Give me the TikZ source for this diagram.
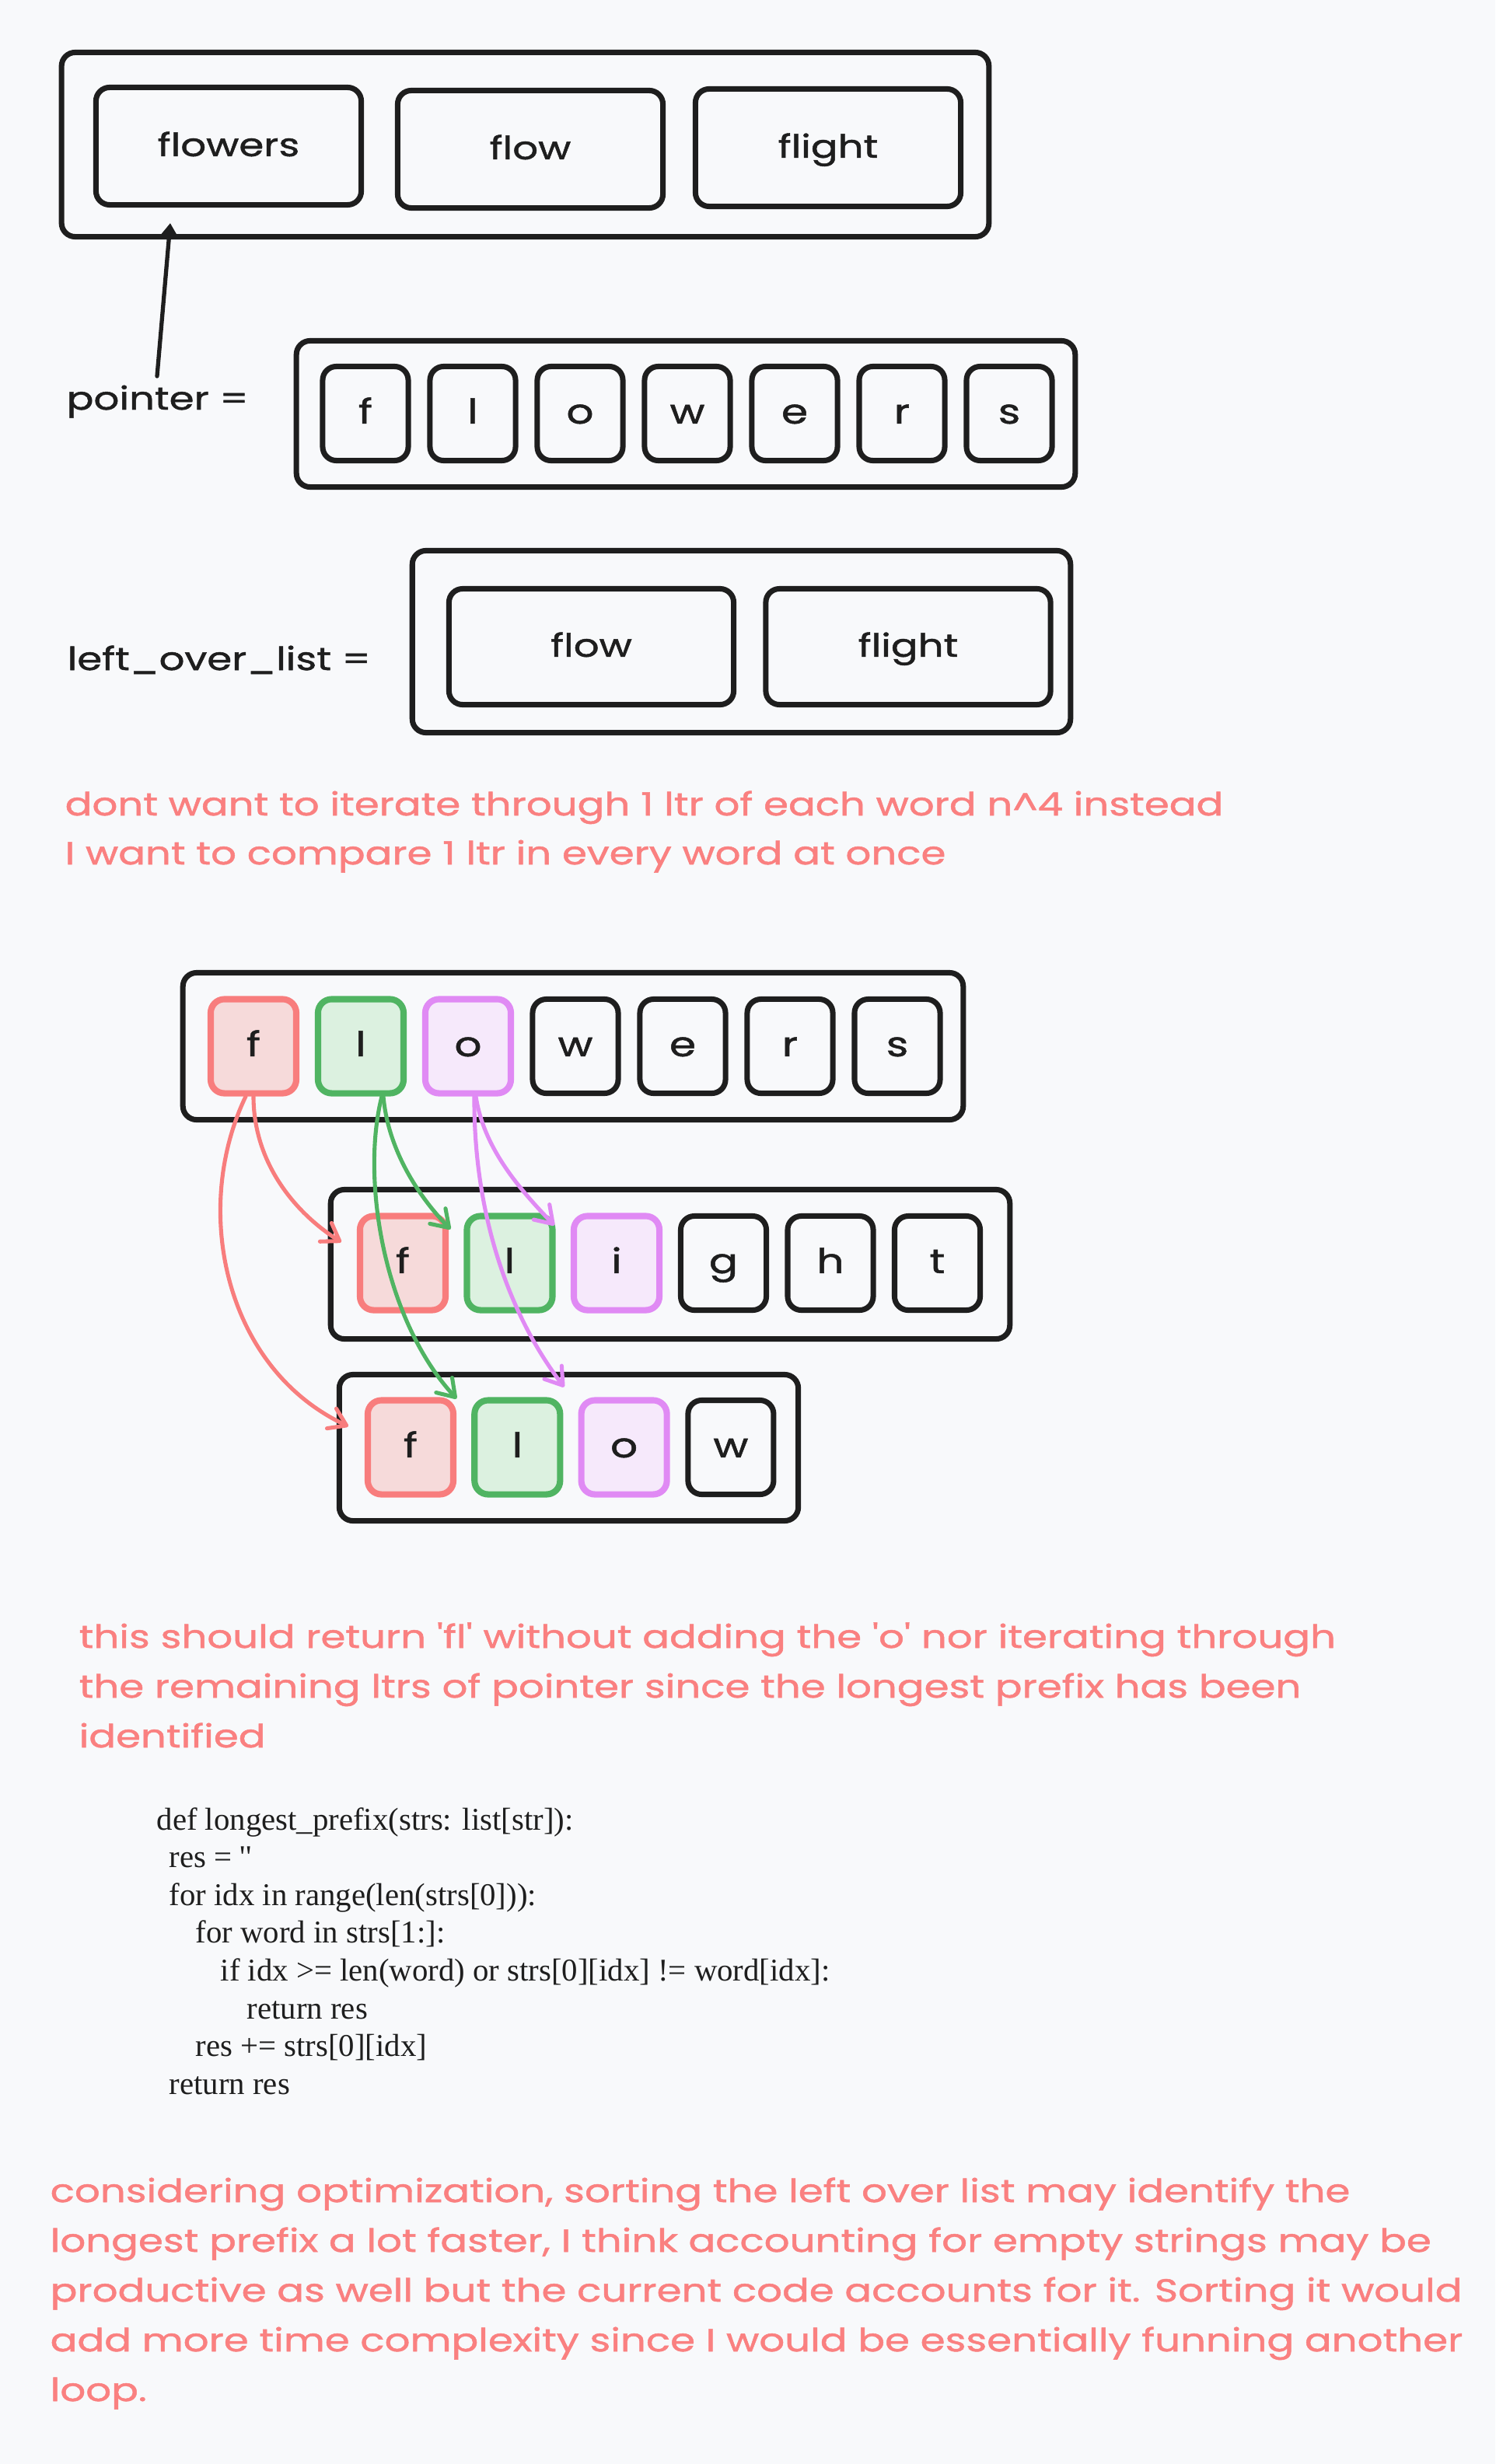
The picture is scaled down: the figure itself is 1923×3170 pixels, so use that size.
\documentclass[tikz,border=0pt]{standalone}
\usepackage{fontspec}
\setmainfont{Liberation Serif}
\newfontfamily\handfont[FakeStretch=1.25,FakeBold=1.2,Ligatures=TeXOff]{Poppins}
\newfontfamily\codefont[Ligatures=TeXOff]{Liberation Serif}
\usetikzlibrary{arrows.meta}

\definecolor{inkc}{HTML}{1E1E1E}
\definecolor{bgc}{HTML}{F8F9FB}
\definecolor{notec}{HTML}{FA8080}
\definecolor{redc}{HTML}{F87D7D}
\definecolor{redfill}{HTML}{F6DADA}
\definecolor{greenc}{HTML}{50B462}
\definecolor{greenfill}{HTML}{DCF1E0}
\definecolor{purplec}{HTML}{E08AF4}
\definecolor{purplefill}{HTML}{F6E9FB}

\tikzset{
  hand/.style={font=\handfont\fontsize{11.7pt}{14pt}\selectfont, text=inkc},
  frame/.style={draw=inkc, line width=2pt, rounded corners=5pt},
  wordbox/.style={frame, hand, minimum width=3.41cm, minimum height=1.51cm,
    text height=2.2ex, text depth=0.6ex},
  cell/.style={frame, hand, font=\handfont\fontsize{12.5pt}{14pt}\selectfont,
    minimum width=1.10cm, minimum height=1.21cm,
    inner sep=0pt, text height=2.2ex, text depth=0.6ex},
  redcell/.style={draw=redc, fill=redfill, line width=2.3pt},
  greencell/.style={draw=greenc, fill=greenfill, line width=2.3pt},
  purplecell/.style={draw=purplec, fill=purplefill, line width=2.3pt},
  labeltext/.style={hand, anchor=base west, inner sep=0pt},
  note/.style={hand, text=notec, anchor=base west, inner sep=0pt},
  codeline/.style={font=\codefont\fontsize{11.6pt}{13pt}\selectfont, text=inkc,
    anchor=base west, inner sep=0pt},
  ptrarrow/.style={draw=inkc, line width=1.5pt, line cap=round,
    -{Triangle[length=5pt, width=6.5pt]}},
  hop/.style={line width=1.45pt, line cap=round,
    -{Straight Barb[length=6pt, width=8pt, round]}}
}

\begin{document}
\begin{tikzpicture}[x=0.01cm, y=-0.01cm]
\fill[bgc] (0,0) rectangle (1923,3170);
\useasboundingbox (0,0) rectangle (1923,3170);

% the list of words
\node[frame, minimum width=11.92cm, minimum height=2.37cm] (words) at (675.5,186) {};
\node[wordbox] (w1) at (294,188) {flowers};
\node[wordbox] (w2) at (682,192) {flow};
\node[wordbox] (w3) at (1065,190) {flight};

% pointer = first word
\node[labeltext] (ptrlab) at (85,527) {pointer =};
\node[frame, minimum width=10.01cm, minimum height=1.88cm] (ptrrow) at (882,532.5) {};
\foreach \c [count=\i] in {f,l,o,w,e,r,s}
  \node[cell] (p\i) at (470+138*\i-138,532) {\c};
\coordinate (ptrfoot) at (202,484);
\draw[ptrarrow] (ptrfoot) -- ([xshift=-0.75cm,yshift=-0.2cm]w1.south);

% the rest of the list
\node[labeltext] (leftlab) at (86,862) {left\_over\_list =};
\node[frame, minimum width=8.46cm, minimum height=2.34cm] (leftover) at (953.5,825.5) {};
\node[wordbox, minimum width=3.66cm, minimum height=1.49cm] (l1) at (760.5,832) {flow};
\node[wordbox, minimum width=3.66cm, minimum height=1.49cm] (l2) at (1168,832) {flight};

\foreach \t [count=\i from 0] in {{dont want to iterate through 1 ltr of each word n\textasciicircum4 instead},
    {I want to compare 1 ltr in every word at once}}
  \node[note] (idea\i) at (83,1049+63*\i) {\t};

% one letter of every word at a time
\node[frame, minimum width=10.03cm, minimum height=1.89cm] (rowA) at (737,1346) {};
\foreach \c/\s [count=\i] in {f/redcell,l/greencell,o/purplecell,w/cell,e/cell,r/cell,s/cell}
  \node[cell,\s] (a\i) at (326+138*\i-138,1346) {\c};

\node[frame, minimum width=8.73cm, minimum height=1.92cm] (rowB) at (862,1626.5) {};
\foreach \c/\s [count=\i] in {f/redcell,l/greencell,i/purplecell,g/cell,h/cell,t/cell}
  \node[cell,\s] (b\i) at (518+137.5*\i-137.5,1625) {\c};

\node[frame, minimum width=5.90cm, minimum height=1.88cm] (rowC) at (731.5,1862.5) {};
\foreach \c/\s [count=\i] in {f/redcell,l/greencell,o/purplecell,w/cell}
  \node[cell,\s] (c\i) at (528+137.3*\i-137.3,1862) {\c};

\draw[hop, redc] (a1.south) .. controls +(0,85) and +(-60,-38) .. ([xshift=-0.2cm,yshift=0.27cm]b1.west);
\draw[hop, redc] ([xshift=-0.1cm]a1.south) .. controls +(-70,146) and +(-159,-75) .. ([xshift=-0.21cm,yshift=0.27cm]c1.west);
\draw[hop, greenc] ([xshift=0.29cm]a2.south) .. controls +(6,68) and +(-42,-43) .. ([xshift=-0.17cm,yshift=-0.21cm]b2.north west);
\draw[hop, greenc] ([xshift=0.27cm]a2.south) .. controls +(-27,106) and +(-94,-102) .. ([xshift=-0.19cm,yshift=-0.02cm]c2.north west);
\draw[hop, purplec] ([xshift=0.1cm]a3.south) .. controls +(10,66) and +(-46,-48) .. ([xshift=-0.21cm,yshift=-0.16cm]b3.north west);
\draw[hop, purplec] ([xshift=0.08cm]a3.south) .. controls +(-1,146) and +(-74,-97) .. ([xshift=-0.18cm,yshift=0.13cm]c3.north west);

\foreach \t [count=\i from 0] in {{this should return 'fl' without adding the 'o' nor iterating through},
    {the remaining ltrs of pointer since the longest prefix has been},
    {identified}}
  \node[note] (result\i) at (101,2120+64*\i) {\t};

% the code
\foreach \dx/\t [count=\i from 0] in {0/{def longest\_prefix(strs: list[str]):},
    16/{res = ''},
    16/{for idx in range(len(strs[0])):},
    50/{for word in strs[1:]:},
    82/{if idx >= len(word) or strs[0][idx] != word[idx]:},
    116/{return res},
    50/{res += strs[0][idx]},
    16/{return res}}
  \node[codeline] (code\i) at (201+\dx,2354+48.6*\i) {\t};

\foreach \t [count=\i from 0] in {{considering optimization, sorting the left over list may identify the},
    {longest prefix a lot faster, I think accounting for empty strings may be},
    {productive as well but the current code accounts for it. Sorting it would},
    {add more time complexity since I would be essentially funning another},
    {loop.}}
  \node[note] (thought\i) at (64,2833+64*\i) {\t};
\end{tikzpicture}
\end{document}
